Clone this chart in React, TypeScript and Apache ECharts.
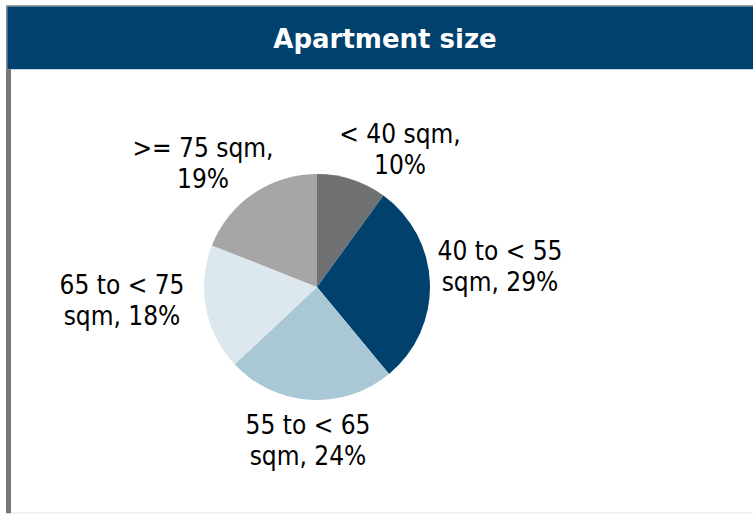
import React, { useEffect, useRef } from "react";
import * as echarts from "echarts";

const categories = ["< 40 sqm", "40 to < 55 sqm", "55 to < 65 sqm", "65 to < 75 sqm", ">= 75 sqm"];
const labelTexts = ["< 40 sqm,\n10%", "40 to < 55\nsqm, 29%", "55 to < 65\nsqm, 24%", "65 to < 75\nsqm, 18%", ">= 75 sqm,\n19%"];
const shares = [10, 29, 24, 18, 19];
const colors = ["#707173", "#00416E", "#A9C7D5", "#DCE7EE", "#A6A6A6"];
const title = "Apartment size";

// layout: label block centres (px)
const LABEL_POS: [number, number][] = [
  [400, 149],
  [500, 266],
  [308, 440],
  [122, 300],
  [203, 163],
];

export default function App() {
  const ref = useRef<HTMLDivElement>(null);
  useEffect(() => {
    if (!ref.current) return;
    const chart = echarts.init(ref.current, undefined, { renderer: "svg" });
    chart.setOption({
      animation: false,
      backgroundColor: "#ffffff",
      graphic: [
        { type: "rect", shape: { x: 6, y: 5, width: 747, height: 1.5 }, style: { fill: "#9a9a9a" } },
        { type: "rect", shape: { x: 6, y: 6, width: 1.3, height: 64 }, style: { fill: "#8a8a8a" } },
        { type: "rect", shape: { x: 7.3, y: 6.5, width: 746, height: 62.8 }, style: { fill: "#00416E" } },
        { type: "rect", shape: { x: 6, y: 69.3, width: 5, height: 444 }, style: { fill: "#777777" } },
        { type: "rect", shape: { x: 11, y: 512.5, width: 742, height: 1 }, style: { fill: "#e6e6e6" } },
        {
          type: "text",
          x: 385,
          y: 39,
          style: {
            text: title,
            fill: "#ffffff",
            font: "bold 26px 'DejaVu Sans', sans-serif",
            textAlign: "center",
            textVerticalAlign: "middle",
          },
        },
      ],
      series: [
        {
          type: "pie",
          center: [317, 287],
          radius: 113,
          startAngle: 90,
          clockwise: true,
          avoidLabelOverlap: false,
          itemStyle: { borderWidth: 0 },
          labelLine: { show: false },
          label: {
            show: true,
            position: "outside",
            color: "#000000",
            fontSize: 26,
            lineHeight: 31,
            fontFamily: "'DejaVu Sans Condensed', 'DejaVu Sans', sans-serif",
            align: "center",
            formatter: (p: any) => labelTexts[p.dataIndex],
          },
          labelLayout: (p: any) => ({
            x: LABEL_POS[p.dataIndex][0],
            y: LABEL_POS[p.dataIndex][1],
            align: "center",
            verticalAlign: "middle",
          }),
          emphasis: { disabled: true },
          data: categories.map((c, i) => ({
            name: c,
            value: shares[i],
            itemStyle: { color: colors[i] },
          })),
        },
      ],
    });
    return () => chart.dispose();
  }, []);
  return (
    <div
      ref={ref}
      style={{ position: "fixed", left: 0, top: 0, width: 753, height: 514 }}
    />
  );
}
